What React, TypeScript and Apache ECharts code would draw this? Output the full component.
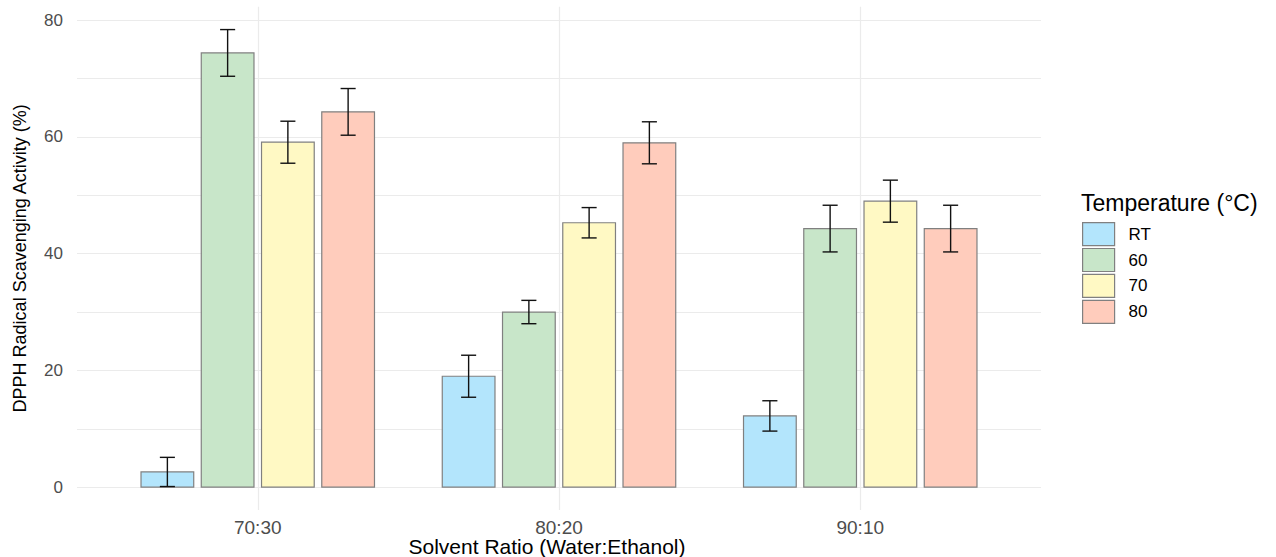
import React, { useEffect, useRef } from 'react';
import * as echarts from 'echarts';

const categories = ['70:30', '80:20', '90:10'];
const temperatures = ['RT', '60', '70', '80'];
const meanRT = [2.6, 19.0, 12.2];
const sdRT = [2.5, 3.6, 2.6];
const mean60 = [74.4, 30.0, 44.3];
const sd60 = [4.0, 2.0, 4.0];
const mean70 = [59.1, 45.3, 49.0];
const sd70 = [3.6, 2.6, 3.6];
const mean80 = [64.3, 59.0, 44.3];
const sd80 = [4.0, 3.6, 4.0];
const yTickLabels = [0, 20, 40, 60, 80];
const yGridValues = [0, 10, 20, 30, 40, 50, 60, 70, 80];

const colors = ['#B3E5FC', '#C8E6C9', '#FFF9C4', '#FFCCBC'];
const FONT = 'Liberation Sans, Arial, sans-serif';

export default function App() {
  const ref = useRef<HTMLDivElement>(null);
  useEffect(() => {
    if (!ref.current) return;
    const chart = echarts.init(ref.current, undefined, { renderer: 'svg' });
    const means = [meanRT, mean60, mean70, mean80];
    const sds = [sdRT, sd60, sd70, sd80];
    let maxTop = 0;
    means.forEach((m, i) => m.forEach((v, j) => { maxTop = Math.max(maxTop, v + sds[i][j]); }));
    const yMin = -0.05 * maxTop;
    const yMax = maxTop * 1.05;
    const dodge = 0.2;
    const barW = 0.175;
    const capW = 0.05;

    const series = temperatures.map((t, s) => ({
      type: 'custom',
      name: t,
      itemStyle: { color: colors[s], borderColor: '#7f7f7f', borderWidth: 1 },
      data: categories.map((c, ci) => [ci + 1, means[s][ci], sds[s][ci]]),
      encode: { x: 0, y: 1 },
      renderItem: (params: any, api: any) => {
        const xv = api.value(0);
        const mean = api.value(1);
        const sd = api.value(2);
        const xc = xv + (s - 1.5) * dodge;
        const tl = api.coord([xc - barW / 2, mean]);
        const br = api.coord([xc + barW / 2, 0]);
        const top = api.coord([xc, mean + sd]);
        const bot = api.coord([xc, mean - sd]);
        const capHalf = api.size([capW, 0])[0] / 2;
        const lineStyle = { stroke: '#111', lineWidth: 1.4 };
        return {
          type: 'group',
          children: [
            {
              type: 'rect',
              shape: { x: tl[0], y: tl[1], width: br[0] - tl[0], height: br[1] - tl[1] },
              style: { fill: colors[s], stroke: '#808080', lineWidth: 1.2 },
            },
            { type: 'line', shape: { x1: top[0], y1: top[1], x2: bot[0], y2: bot[1] }, style: lineStyle },
            { type: 'line', shape: { x1: top[0] - capHalf, y1: top[1], x2: top[0] + capHalf, y2: top[1] }, style: lineStyle },
            { type: 'line', shape: { x1: bot[0] - capHalf, y1: bot[1], x2: bot[0] + capHalf, y2: bot[1] }, style: lineStyle },
          ],
        };
      },
    }));

    chart.setOption({
      animation: false,
      backgroundColor: '#ffffff',
      grid: { left: 77, right: 235, top: 6.7, bottom: 47, containLabel: false, outerBoundsMode: 'none' },
      title: {
        text: 'Temperature (°C)',
        left: 1081,
        top: 191,
        textStyle: { fontFamily: FONT, fontSize: 23, fontWeight: 'normal', color: '#000' },
        padding: 0,
      },
      legend: {
        orient: 'vertical',
        left: 1082,
        top: 222,
        itemWidth: 32,
        itemHeight: 23,
        itemGap: 1.7,
        icon: 'rect',
        padding: 0,
        itemStyle: { borderColor: '#808080', borderWidth: 1.2 },
        textStyle: { fontFamily: FONT, fontSize: 17, color: '#000', padding: [0, 0, 0, 9] },
        data: temperatures,
      },
      xAxis: {
        type: 'value',
        min: 0.4,
        max: 3.6,
        axisLine: { show: false },
        axisTick: { show: false, customValues: [1, 2, 3] },
        axisLabel: {
          customValues: [1, 2, 3],
          formatter: (v: number) => categories[Math.round(v) - 1] ?? '',
          color: '#4d4d4d',
          fontSize: 19,
          lineHeight: 16,
          fontFamily: FONT,
          margin: 9,
        },
        splitLine: { show: true, lineStyle: { color: '#ebebeb', width: 1.2 } },
        name: 'Solvent Ratio (Water:Ethanol)',
        nameLocation: 'middle',
        nameGap: 26,
        nameMoveOverlap: false,
        nameTextStyle: { fontFamily: FONT, fontSize: 21, lineHeight: 21, color: '#000', padding: [0, 24, 0, 0] },
      },
      yAxis: {
        type: 'value',
        min: yMin,
        max: yMax,
        axisLine: { show: false },
        axisTick: { show: false, customValues: yGridValues },
        axisLabel: {
          customValues: yTickLabels,
          color: '#4d4d4d',
          fontSize: 17,
          fontFamily: FONT,
          margin: 14,
        },
        splitLine: { show: true, lineStyle: { color: '#ebebeb', width: 1.2 } },
        name: 'DPPH Radical Scavenging Activity (%)',
        nameLocation: 'middle',
        nameGap: 48,
        nameRotate: 90,
        nameMoveOverlap: false,
        nameTextStyle: { fontFamily: FONT, fontSize: 18, color: '#000' },
      },
      series,
    });
    return () => chart.dispose();
  }, []);
  return <div ref={ref} style={{ position: 'fixed', left: 0, top: 0, width: 1276, height: 557 }} />;
}
